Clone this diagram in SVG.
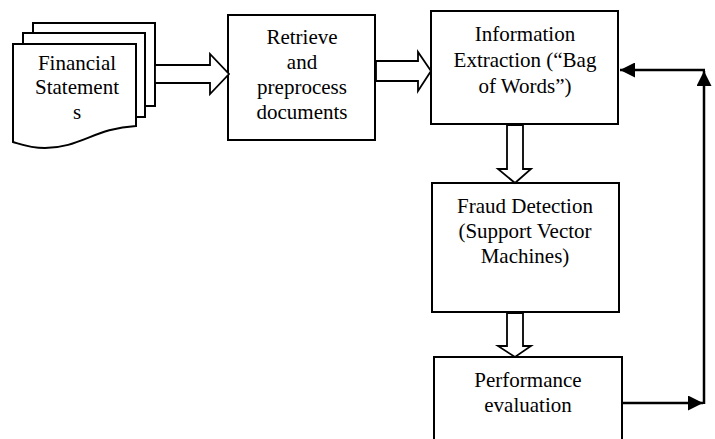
<svg xmlns="http://www.w3.org/2000/svg" width="715" height="439" viewBox="0 0 715 439">
<defs>
<style>
.box{fill:#fff;stroke:#000;stroke-width:2}
.blk{fill:#fff;stroke:#000;stroke-width:1.8;stroke-linejoin:miter}
.ln{fill:none;stroke:#000;stroke-width:2.5}
text{font-family:"Liberation Serif","Times New Roman",serif;font-size:21px;fill:#000;text-anchor:middle}
</style>
<marker id="ah" viewBox="0 0 10 10" refX="10" refY="5" markerWidth="6" markerHeight="6" markerUnits="strokeWidth" orient="auto">
<path d="M0,0 L10,5 L0,10 Z" fill="#000"/>
</marker>
</defs>
<rect width="715" height="439" fill="#fff"/>
<g id="financial-statements">
<rect class="box" x="33" y="23" width="122" height="83"/>
<rect class="box" x="23" y="33" width="122" height="84"/>
<path class="box" d="M13,44 H136 V126 C95,128 80,148 45,148 C30,148 20,144 13,142 Z"/>
<text x="77" y="70">Financial</text>
<text x="77" y="94">Statement</text>
<text x="77" y="119">s</text>
</g>
<g id="retrieve">
<rect class="box" x="228" y="15" width="147" height="125"/>
<text x="302" y="44">Retrieve</text>
<text x="302" y="69">and</text>
<text x="302" y="94">preprocess</text>
<text x="302" y="119">documents</text>
</g>
<g id="info-extraction">
<rect class="box" x="431" y="11" width="187" height="113"/>
<text x="525" y="41">Information</text>
<text x="525" y="67">Extraction (“Bag</text>
<text x="525" y="93">of Words”)</text>
</g>
<g id="fraud-detection">
<rect class="box" x="432" y="183" width="187" height="129"/>
<text x="525" y="213">Fraud Detection</text>
<text x="525" y="238">(Support  Vector</text>
<text x="525" y="263">Machines)</text>
</g>
<g id="performance">
<rect class="box" x="434" y="357" width="188" height="90"/>
<text x="528" y="387">Performance</text>
<text x="528" y="412">evaluation</text>
</g>
<g id="connectors">
<path class="blk" d="M155,65 H210 V54 L229,74 L210,94 V83 H155 Z"/>
<path class="blk" d="M376,61 H418 V52 L431,71 L418,91 V81 H376 Z"/>
<path class="blk" d="M507,125 V169 H498 L515,183 L531,169 H523 V125 Z"/>
<path class="blk" d="M507,313 V346 H498 L515,357 L531,346 H523 V313 Z"/>
<line class="ln" x1="622" y1="403" x2="703" y2="403" marker-end="url(#ah)"/>
<line class="ln" x1="704" y1="404" x2="704" y2="71" marker-end="url(#ah)"/>
<line class="ln" x1="705" y1="70" x2="620" y2="70" marker-end="url(#ah)"/>
</g>
</svg>
